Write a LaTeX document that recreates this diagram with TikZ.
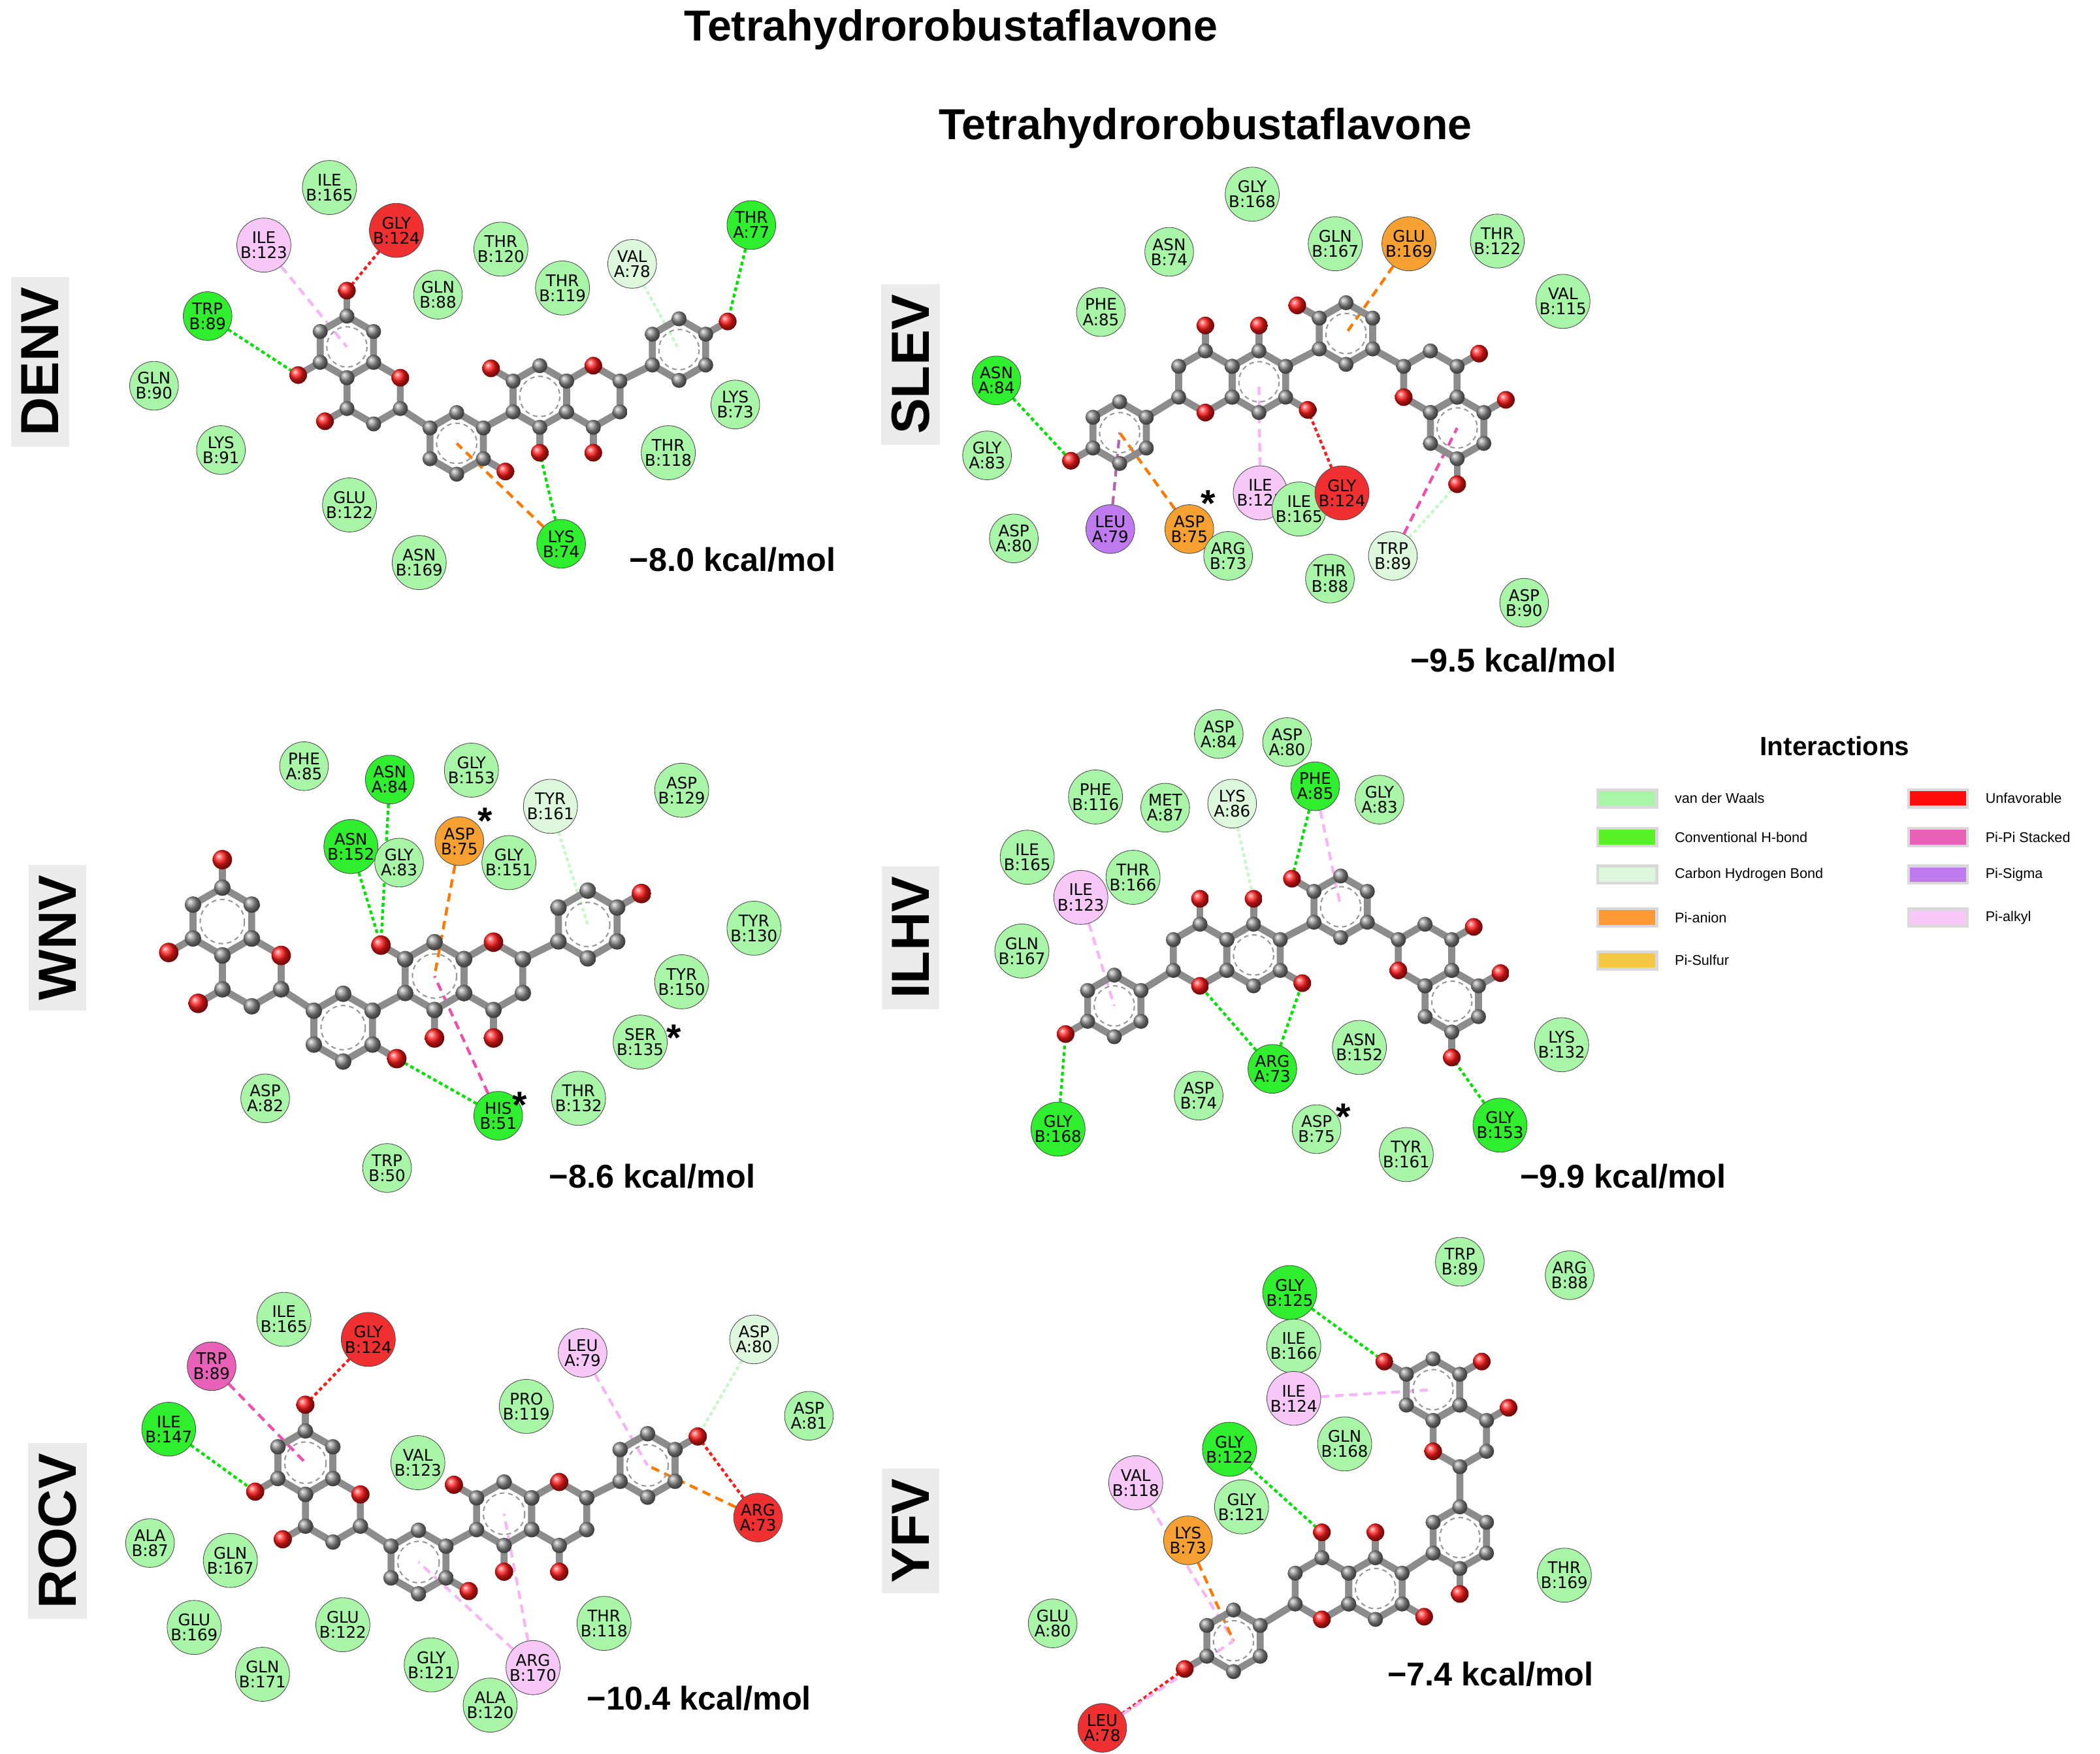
\documentclass[tikz,border=0pt]{standalone}
\usepackage{fontspec}
\setmainfont{Liberation Sans}
\newfontfamily\resfont{DejaVu Sans}
\usetikzlibrary{calc,positioning}
\pgfdeclarelayer{bg}
\pgfsetlayers{bg,main}
\definecolor{cvdw}{HTML}{A8F5A8}
\definecolor{chbc}{HTML}{2EEE2E}
\definecolor{cchb}{HTML}{DCF7DC}
\definecolor{cpan}{HTML}{F5A030}
\definecolor{cpsul}{HTML}{F5C842}
\definecolor{cunf}{HTML}{F03030}
\definecolor{cpipi}{HTML}{E860B8}
\definecolor{cpsig}{HTML}{C07AF0}
\definecolor{cpalk}{HTML}{F7C8F7}
\tikzset{
  res/.style={circle, draw=black!70, line width=0.6pt, minimum size=1.82cm, inner sep=0pt,
    align=center, font=\resfont\fontsize{17}{16}\selectfont},
  vdw/.style={fill=cvdw}, hbc/.style={fill=chbc}, chb/.style={fill=cchb},
  pan/.style={fill=cpan}, unf/.style={fill=cunf}, pipi/.style={fill=cpipi},
  psig/.style={fill=cpsig}, palk/.style={fill=cpalk},
  bond/.style={line width=0.26cm, draw=black!45, line cap=round},
  arom/.style={draw=black!40, line width=1.5pt, dash pattern=on 5pt off 4pt},
  hbl/.style={draw=green!90!black, line width=3pt, dash pattern=on 4pt off 3pt},
  unfl/.style={draw=red!90, line width=3pt, dash pattern=on 4pt off 3pt},
  chbl/.style={draw=cchb!90!green, line width=3pt, dash pattern=on 4pt off 3pt},
  panl/.style={draw=orange!95!red, line width=3pt, dash pattern=on 9pt off 6pt},
  pipil/.style={draw=magenta!70, line width=3pt, dash pattern=on 9pt off 6pt},
  psigl/.style={draw=violet!60, line width=3pt, dash pattern=on 9pt off 6pt},
  palkl/.style={draw=cpalk!90!magenta, line width=3pt, dash pattern=on 9pt off 6pt},
  panel/.style={fill=black!8, rotate=90, inner sep=11pt, font=\bfseries\fontsize{57}{57}\selectfont},
  energy/.style={font=\bfseries\fontsize{35}{35}\selectfont},
  star/.style={font=\bfseries\fontsize{40}{40}\selectfont},
  swatch/.style={draw=black!15, line width=3pt, minimum width=2.2cm, minimum height=0.65cm, inner sep=0pt},
  leg/.style={font=\fontsize{15}{15}\selectfont, anchor=west}
}
% one six-membered ring: name, centre, aromatic flag (y runs down, so angles are negated)
\newcommand\hexring[3]{%
  \coordinate (#1) at (#2);
  \foreach \k/\a in {1/90,2/150,3/210,4/270,5/330,6/30}
    {\coordinate (#1-\k) at ($(#1)+(-\a:23)$);}
  \draw[bond] (#1-1)--(#1-2)--(#1-3)--(#1-4)--(#1-5)--(#1-6)--cycle;
  \ifnum#3=1 \draw[arom] (#1) circle [radius=15];\fi}
\newcommand\oxy[3]{%
  \coordinate (#1) at ($(#2)+(-#3:19)$);
  \draw[bond] (#2)--(#1);}
\newcommand\cballs[1]{\foreach \rn in {#1}{\foreach \k in {1,...,6}{\shade[ball color=black!45] (\rn-\k) circle [radius=5.6];}}}
\newcommand\oballs[1]{\foreach \on in {#1}{\shade[ball color=red!90] (\on) circle [radius=6.6];}}
% flavone dimer, layout of DENV / WNV / ROCV
\newcommand\flavA[1]{%
  \hexring{#1-A}{0,0}{1} \hexring{#1-B}{20,34.5}{0} \hexring{#1-C}{82,72}{1}
  \hexring{#1-D}{144,37}{1} \hexring{#1-E}{184,37}{0} \hexring{#1-F}{248,2}{1}
  \draw[bond] (#1-B-5)--(#1-C-2) (#1-C-6)--(#1-D-3) (#1-E-6)--(#1-F-3);
  \oxy{#1-oA1}{#1-A-1}{90} \oxy{#1-oA3}{#1-A-3}{210} \oxy{#1-oB3}{#1-B-3}{210}
  \oxy{#1-oC5}{#1-C-5}{330} \oxy{#1-oD2}{#1-D-2}{150} \oxy{#1-oD4}{#1-D-4}{270}
  \oxy{#1-oE4}{#1-E-4}{270} \oxy{#1-oF6}{#1-F-6}{30}
  \cballs{#1-A,#1-B,#1-C,#1-D,#1-E,#1-F}
  \oballs{#1-oA1,#1-oA3,#1-oB3,#1-oC5,#1-oD2,#1-oD4,#1-oE4,#1-oF6,#1-B-6,#1-E-1}}
% flavone dimer, layout of SLEV / ILHV
\newcommand\flavB[1]{%
  \hexring{#1-P}{0,0}{1} \hexring{#1-R}{64,-38}{0} \hexring{#1-S}{104,-38}{1}
  \hexring{#1-Q}{169,-74}{1} \hexring{#1-T}{232,-38}{0} \hexring{#1-U}{252,-3.5}{1}
  \draw[bond] (#1-P-6)--(#1-R-3) (#1-S-6)--(#1-Q-3) (#1-Q-5)--(#1-T-2);
  \oxy{#1-oP}{#1-P-3}{210} \oxy{#1-oR1}{#1-R-1}{90} \oxy{#1-oS1}{#1-S-1}{90}
  \oxy{#1-oS5}{#1-S-5}{330} \oxy{#1-oQ}{#1-Q-2}{150} \oxy{#1-oT6}{#1-T-6}{30}
  \oxy{#1-oU6}{#1-U-6}{30} \oxy{#1-oU4}{#1-U-4}{270}
  \cballs{#1-P,#1-R,#1-S,#1-Q,#1-T,#1-U}
  \oballs{#1-oP,#1-oR1,#1-oS1,#1-oS5,#1-oQ,#1-oT6,#1-oU6,#1-oU4,#1-R-4,#1-T-3}}
\begin{document}
\begin{tikzpicture}[x=0.05cm, y=-0.05cm]
\useasboundingbox (0,0) rectangle (1568,1309.5);
% titles
\node[font=\bfseries\fontsize{46}{46}\selectfont] (title1) at (710,22) {Tetrahydrorobustaflavone};
\node[font=\bfseries\fontsize{46}{46}\selectfont] (title2) at (900,96) {Tetrahydrorobustaflavone};
% panel labels
\node[panel] (pDENV) at (30,270) {DENV};
\node[panel] (pSLEV) at (680,272) {SLEV};
\node[panel] (pWNV) at (43,700) {WNV};
\node[panel] (pILHV) at (680,700) {ILHV};
\node[panel] (pROCV) at (43,1143) {ROCV};
\node[panel] (pYFV) at (680,1143) {YFV};
% energies
\node[energy] (eDENV) at (547,418) {−8.0 kcal/mol};
\node[energy] (eSLEV) at (1130,493) {−9.5 kcal/mol};
\node[energy] (eWNV) at (487,878) {−8.6 kcal/mol};
\node[energy] (eILHV) at (1212,878) {−9.9 kcal/mol};
\node[energy] (eROCV) at (522,1268) {−10.4 kcal/mol};
\node[energy] (eYFV) at (1113,1250) {−7.4 kcal/mol};
% molecules
\begin{scope}[shift={(259,259)}] \flavA{dn} \end{scope}
\begin{scope}[shift={(166,688)}, scale=1.1] \flavA{wn} \end{scope}
\begin{scope}[shift={(228,1092)}, scale=1.03] \flavA{rc} \end{scope}
\begin{scope}[shift={(836,323)}] \flavB{sl} \end{scope}
\begin{scope}[shift={(832,751)}] \flavB{il} \end{scope}
% YFV molecule
\hexring{yf-P}{921,1225}{1} \hexring{yf-E}{987,1186}{0} \hexring{yf-D}{1027,1186}{1}
\hexring{yf-M}{1090,1148}{1} \hexring{yf-T}{1090,1072}{0} \hexring{yf-S}{1070,1037.5}{1}
\draw[bond] (yf-P-6)--(yf-E-3) (yf-D-6)--(yf-M-3) (yf-M-1)--(yf-T-4);
\oxy{yf-oP}{yf-P-3}{210} \oxy{yf-oE1}{yf-E-1}{90} \oxy{yf-oD1}{yf-D-1}{90}
\oxy{yf-oD5}{yf-D-5}{330} \oxy{yf-oM4}{yf-M-4}{270} \oxy{yf-oS2}{yf-S-2}{150}
\oxy{yf-oS6}{yf-S-6}{30} \oxy{yf-oT6}{yf-T-6}{30}
\cballs{yf-P,yf-E,yf-D,yf-M,yf-T,yf-S}
\oballs{yf-oP,yf-oE1,yf-oD1,yf-oD5,yf-oM4,yf-oS2,yf-oS6,yf-oT6,yf-E-4,yf-T-3}
% residues, DENV
\foreach \n/\x/\y/\l/\s in {
  dI165/246/140/{ILE\\B:165}/vdw, dI123/197/183/{ILE\\B:123}/palk, dG124/296/172/{GLY\\B:124}/unf,
  dT120/374/186/{THR\\B:120}/vdw, dQ88/327/220/{GLN\\B:88}/vdw, dT119/420/215/{THR\\B:119}/vdw,
  dV78/472/197/{VAL\\A:78}/chb, dT77/561/168/{THR\\A:77}/hbc, dW89/155/236/{TRP\\B:89}/hbc,
  dQ90/115/288/{GLN\\B:90}/vdw, dK91/165/336/{LYS\\B:91}/vdw, dE122/261/377/{GLU\\B:122}/vdw,
  dN169/313/420/{ASN\\B:169}/vdw, dK74/419/406/{LYS\\B:74}/hbc, dT118/499/338/{THR\\B:118}/vdw,
  dK73/549/302/{LYS\\B:73}/vdw}
  \node[res,\s] (\n) at (\x,\y) {\l};
% residues, SLEV
\foreach \n/\x/\y/\l/\s in {
  sG168/935/145/{GLY\\B:168}/vdw, sN74/873/188/{ASN\\B:74}/vdw, sQ167/997/182/{GLN\\B:167}/vdw,
  sE169/1052/182/{GLU\\B:169}/pan, sT122/1118/180/{THR\\B:122}/vdw, sV115/1167/225/{VAL\\B:115}/vdw,
  sF85/822/233/{PHE\\A:85}/vdw, sN84/744/284/{ASN\\A:84}/hbc, sG83/737/340/{GLY\\A:83}/vdw,
  sD80/757/402/{ASP\\A:80}/vdw, sL79/829/395/{LEU\\A:79}/psig, sD75/888/395/{ASP\\B:75}/pan,
  sI123/941/368/{ILE\\B:123}/palk, sI165/970/380/{ILE\\B:165}/vdw, sG124/1002/368/{GLY\\B:124}/unf,
  sR73/917/415/{ARG\\B:73}/vdw, sT88/993/432/{THR\\B:88}/vdw, sW89/1040/415/{TRP\\B:89}/chb,
  sD90/1138/450/{ASP\\B:90}/vdw}
  \node[res,\s] (\n) at (\x,\y) {\l};
% residues, WNV
\foreach \n/\x/\y/\l/\s in {
  wF85/227/572/{PHE\\A:85}/vdw, wN84/291/582/{ASN\\A:84}/hbc, wG153/352/575/{GLY\\B:153}/vdw,
  wY161/411/602/{TYR\\B:161}/chb, wD129/509/590/{ASP\\B:129}/vdw, wN152/262/632/{ASN\\B:152}/hbc,
  wG83/298/644/{GLY\\A:83}/vdw, wD75/343/628/{ASP\\B:75}/pan, wG151/380/644/{GLY\\B:151}/vdw,
  wY130/563/693/{TYR\\B:130}/vdw, wY150/509/733/{TYR\\B:150}/vdw, wS135/478/778/{SER\\B:135}/vdw,
  wT132/432/820/{THR\\B:132}/vdw, wD82/198/820/{ASP\\A:82}/vdw, wH51/372/833/{HIS\\B:51}/hbc,
  wW50/289/872/{TRP\\B:50}/vdw}
  \node[res,\s] (\n) at (\x,\y) {\l};
% residues, ILHV
\foreach \n/\x/\y/\l/\s in {
  iD84/910/548/{ASP\\A:84}/vdw, iD80/961/554/{ASP\\A:80}/vdw, iF116/818/595/{PHE\\B:116}/vdw,
  iM87/870/603/{MET\\A:87}/vdw, iK86/920/600/{LYS\\A:86}/chb, iF85/982/587/{PHE\\A:85}/hbc,
  iG83/1030/597/{GLY\\A:83}/vdw, iI165/767/640/{ILE\\B:165}/vdw, iT166/846/655/{THR\\B:166}/vdw,
  iI123/807/670/{ILE\\B:123}/palk, iQ167/763/710/{GLN\\B:167}/vdw, iN152/1015/782/{ASN\\B:152}/vdw,
  iK132/1166/780/{LYS\\B:132}/vdw, iR73/950/798/{ARG\\A:73}/hbc, iD74/895/818/{ASP\\B:74}/vdw,
  iD75/983/843/{ASP\\B:75}/vdw, iY161/1050/862/{TYR\\B:161}/vdw, iG168/790/843/{GLY\\B:168}/hbc,
  iG153/1120/840/{GLY\\B:153}/hbc}
  \node[res,\s] (\n) at (\x,\y) {\l};
% residues, ROCV
\foreach \n/\x/\y/\l/\s in {
  rI165/212/985/{ILE\\B:165}/vdw, rG124/275/1000/{GLY\\B:124}/unf, rW89/158/1020/{TRP\\B:89}/pipi,
  rL79/435/1010/{LEU\\A:79}/palk, rD80/563/1000/{ASP\\A:80}/chb, rD81/604/1057/{ASP\\A:81}/vdw,
  rI147/126/1067/{ILE\\B:147}/hbc, rP119/393/1050/{PRO\\B:119}/vdw, rV123/312/1092/{VAL\\B:123}/vdw,
  rR73/566/1133/{ARG\\A:73}/unf, rA87/112/1152/{ALA\\B:87}/vdw, rQ167/172/1165/{GLN\\B:167}/vdw,
  rE169/145/1215/{GLU\\B:169}/vdw, rE122/256/1213/{GLU\\B:122}/vdw, rT118/451/1212/{THR\\B:118}/vdw,
  rG121/322/1243/{GLY\\B:121}/vdw, rR170/398/1245/{ARG\\B:170}/palk, rQ171/196/1250/{GLN\\B:171}/vdw,
  rA120/366/1273/{ALA\\B:120}/vdw}
  \node[res,\s] (\n) at (\x,\y) {\l};
% residues, YFV
\foreach \n/\x/\y/\l/\s in {
  yW89/1090/942/{TRP\\B:89}/vdw, yR88/1172/952/{ARG\\B:88}/vdw, yG125/963/965/{GLY\\B:125}/hbc,
  yI166/966/1005/{ILE\\B:166}/vdw, yI124/966/1044/{ILE\\B:124}/palk, yQ168/1004/1078/{GLN\\B:168}/vdw,
  yG122/918/1082/{GLY\\B:122}/hbc, yV118/848/1107/{VAL\\B:118}/palk, yG121/927/1125/{GLY\\B:121}/vdw,
  yK73/887/1150/{LYS\\B:73}/pan, yT169/1168/1176/{THR\\B:169}/vdw, yE80/786/1212/{GLU\\A:80}/vdw,
  yL78/823/1290/{LEU\\A:78}/unf}
  \node[res,\s] (\n) at (\x,\y) {\l};
% asterisks
\node[star] (st1) at (902,376) {*};
\node[star] (st2) at (362,613) {*};
\node[star] (st3) at (503,775) {*};
\node[star] (st4) at (388,825) {*};
\node[star] (st5) at (1003,834) {*};
% interactions
\begin{pgfonlayer}{bg}
\draw[palkl] (dI123) -- (dn-A);
\draw[unfl] (dG124) -- (dn-oA1);
\draw[hbl] (dW89) -- (dn-oA3);
\draw[hbl] (dT77) -- (dn-oF6);
\draw[chbl] (dV78) -- (dn-F);
\draw[hbl] (dK74) -- (dn-oD4);
\draw[panl] (dK74) -- (dn-C);
\draw[hbl] (sN84) -- (sl-oP);
\draw[psigl] (sL79) -- (sl-P);
\draw[panl] (sD75) -- (sl-P);
\draw[palkl] (sI123) -- (sl-S);
\draw[unfl] (sG124) -- (sl-oS5);
\draw[panl] (sE169) -- (sl-Q);
\draw[pipil] (sW89) -- (sl-U);
\draw[chbl] (sW89) -- (sl-oU4);
\draw[hbl] (wN84) -- (wn-oD2);
\draw[hbl] (wN152) -- (wn-oD2);
\draw[panl] (wD75) -- (wn-D);
\draw[chbl] (wY161) -- (wn-F);
\draw[hbl] (wH51) -- (wn-oC5);
\draw[pipil] (wH51) -- (wn-D);
\draw[hbl] (iG168) -- (il-oP);
\draw[palkl] (iI123) -- (il-P);
\draw[chbl] (iK86) -- (il-oS1);
\draw[palkl] (iF85) -- (il-Q);
\draw[hbl] (iF85) -- (il-oQ);
\draw[hbl] (iR73) -- (il-R-4);
\draw[hbl] (iR73) -- (il-oS5);
\draw[hbl] (iG153) -- (il-oU4);
\draw[pipil] (rW89) -- (rc-A);
\draw[unfl] (rG124) -- (rc-oA1);
\draw[hbl] (rI147) -- (rc-oA3);
\draw[palkl] (rL79) -- (rc-F);
\draw[chbl] (rD80) -- (rc-oF6);
\draw[unfl] (rR73) -- (rc-oF6);
\draw[panl] (rR73) -- (rc-F);
\draw[palkl] (rR170) -- (rc-C);
\draw[palkl] (rR170) -- (rc-D);
\draw[hbl] (yG125) -- (yf-oS2);
\draw[palkl] (yI124) -- (yf-S);
\draw[hbl] (yG122) -- (yf-oE1);
\draw[palkl] (yV118) -- (yf-P);
\draw[panl] (yK73) -- (yf-P);
\draw[unfl] (yL78) -- (yf-oP);
\draw[palkl] (yL78) -- (yf-P);
\end{pgfonlayer}
% legend
\node[font=\bfseries\fontsize{28}{28}\selectfont] (legtitle) at (1370,557) {Interactions};
\foreach \n/\x/\y/\c/\l in {
  l1/1215/596/cvdw/van der Waals, l2/1215/625/chbc!80!yellow/Conventional H-bond,
  l3/1215/653/cchb/Carbon Hydrogen Bond, l4/1215/685/orange!80/Pi-anion,
  l5/1215/717/cpsul/Pi-Sulfur, l6/1447/596/red!95/Unfavorable,
  l7/1447/625/cpipi/Pi-Pi Stacked, l8/1447/653/cpsig/Pi-Sigma, l9/1447/685/cpalk/Pi-alkyl}
  {\node[swatch, fill=\c] (\n) at (\x,\y) {};
   \node[leg, right=0.5cm of \n] (\n t) {\l};}
\end{tikzpicture}
\end{document}
